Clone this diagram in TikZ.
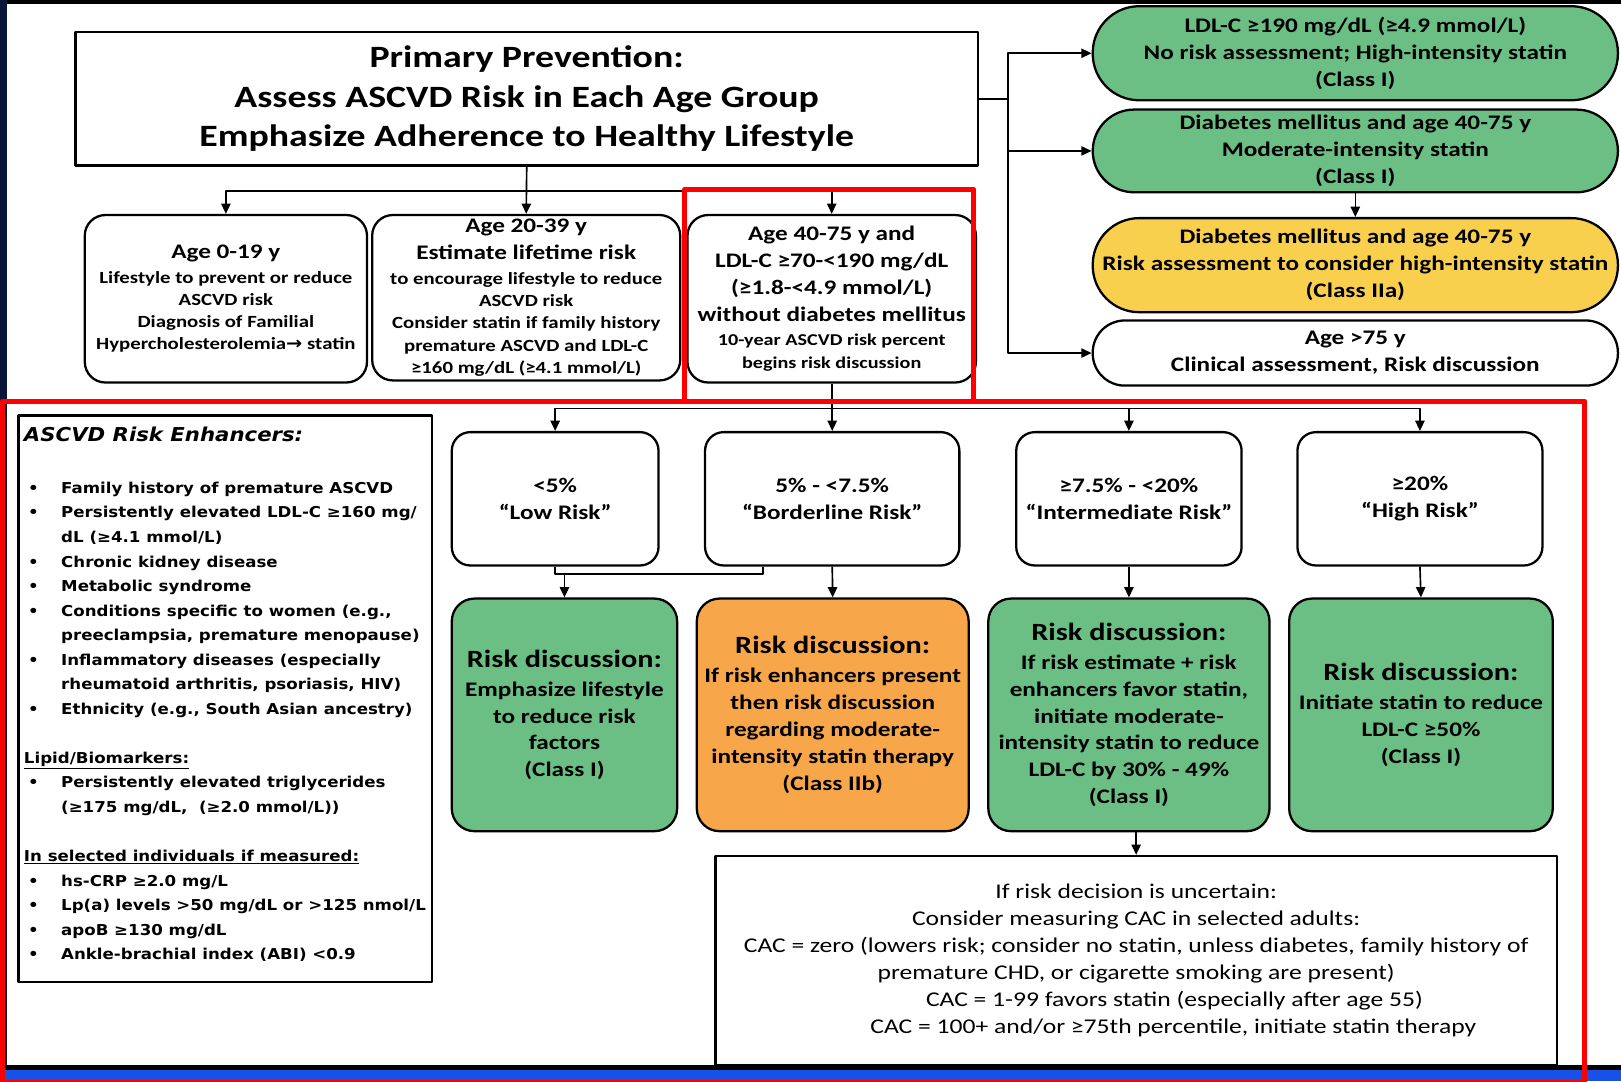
\documentclass[tikz,border=0pt]{standalone}
\usepackage{fontspec}
\setmainfont{Carlito}[FakeStretch=1.22]
\newfontfamily\enhfont{DejaVu Sans}[FakeStretch=1.11]
\newfontfamily\arrfont{DejaVu Sans}[FakeStretch=1.1]
\usetikzlibrary{arrows.meta}
\definecolor{gbox}{RGB}{108,191,132}
\definecolor{obox}{RGB}{247,166,73}
\definecolor{ybox}{RGB}{249,208,77}
\definecolor{navyedge}{RGB}{8,22,60}
\definecolor{bandblue}{RGB}{22,82,232}
\newcommand\fs[2]{\fontsize{#1}{#2}\selectfont}
\newcommand\bitem{\makebox[36pt][l]{\hspace*{4pt}•}}
\newcommand\bcont{\hspace*{36pt}}
\begin{document}
\begin{tikzpicture}[x=1pt, y=-1pt, line join=round,
  bxs/.style={draw, line width=2.2pt, inner sep=0pt, align=center},
  agebox/.style={bxs, rounded corners=20pt, fill=white, font=\bfseries\fs{16.5}{21.5}},
  ovalbox/.style={bxs, minimum width=508pt, font=\bfseries\fs{20}{26}},
  riskbox/.style={bxs, rounded corners=18pt, minimum height=129pt, fill=white, font=\bfseries\fs{20}{26}},
  discbox/.style={bxs, rounded corners=22pt, minimum height=225pt, font=\bfseries\fs{20}{26}},
  conn/.style={line width=1.6pt},
  arr/.style={conn, -{Triangle[length=10pt,width=9pt]}},
  redframe/.style={draw=red, line width=5pt}]
\useasboundingbox (0,0) rectangle (1568,1046);
% frame
\fill[white] (0,0) rectangle (1568,1046);
\fill[black] (0,0) rectangle (1568,4);
\fill[navyedge] (0,0) rectangle (7,1046);
\fill[black] (0,1030) rectangle (1568,1035);
\fill[bandblue] (0,1035) rectangle (1568,1046);

% title
\node[bxs, minimum width=873pt, minimum height=129pt, font=\bfseries\fs{30}{38}] (title) at (509.5,95.5)
 {Primary Prevention:\\Assess ASCVD Risk in Each Age Group\\Emphasize Adherence to Healthy Lifestyle};

% right ovals
\node[ovalbox, fill=gbox, minimum height=91pt, rounded corners=45pt] (o1) at (1311,51.5)
 {LDL-C ≥190 mg/dL (≥4.9 mmol/L)\\No risk assessment; High-intensity statin\\(Class I)};
\node[ovalbox, fill=gbox, minimum height=80pt, rounded corners=40pt] (o2) at (1311,146)
 {Diabetes mellitus and age 40-75 y\\Moderate-intensity statin\\(Class I)};
\node[ovalbox, fill=ybox, minimum height=91pt, rounded corners=45pt] (o3) at (1311,256.5)
 {Diabetes mellitus and age 40-75 y\\Risk assessment to consider high-intensity statin\\(Class IIa)};
\node[ovalbox, fill=white, minimum height=63pt, rounded corners=31pt] (o4) at (1311,341.5)
 {Age >75 y\\Clinical assessment, Risk discussion};

% age boxes
\node[agebox, minimum width=273pt, minimum height=162pt] (a1) at (218.5,289)
 {{\fs{20}{26}Age 0-19 y}\\[2.5pt]Lifestyle to prevent or reduce\\ASCVD risk\\Diagnosis of Familial\\Hypercholesterolemia{\arrfont\fs{17}{21.5}→} statin};
\node[agebox, minimum width=298pt, minimum height=160pt] (a2) at (509,288)
 {{\fs{20}{26}Age 20-39 y}\\[4.5pt]{\fs{20}{26}Estimate lifetime risk}\\[2.5pt]to encourage lifestyle to reduce\\ASCVD risk\\Consider statin if family history\\premature ASCVD and LDL-C\\≥160 mg/dL (≥4.1 mmol/L)};
\node[agebox, minimum width=279pt, minimum height=162pt, font=\bfseries\fs{20}{26}] (a3) at (804.5,289)
 {Age 40-75 y and\\LDL-C ≥70-<190 mg/dL\\(≥1.8-<4.9 mmol/L)\\without diabetes mellitus\\[-2pt]{\fs{16}{22}10-year ASCVD risk percent}\\[-4pt]{\fs{16}{22}begins risk discussion}};

% risk boxes
\node[riskbox, minimum width=200pt] (r1) at (537,482.5) {<5\%\\“Low Risk”};
\node[riskbox, minimum width=246pt] (r2) at (805,482.5) {5\% - <7.5\%\\“Borderline Risk”};
\node[riskbox, minimum width=218pt] (r3) at (1092,482.5) {≥7.5\% - <20\%\\“Intermediate Risk”};
\node[riskbox, minimum width=237pt] (r4) at (1373.5,482.5) {≥20\%\\“High Risk”};

% discussion boxes
\node[discbox, fill=gbox, minimum width=218pt] (g1) at (546,691.5)
 {{\fs{24}{28}Risk discussion:}\\[2pt]Emphasize lifestyle\\to reduce risk\\factors\\(Class I)};
\node[discbox, fill=obox, minimum width=263pt] (g2) at (805.5,691.5)
 {{\fs{24}{28}Risk discussion:}\\[2pt]If risk enhancers present\\then risk discussion\\regarding moderate-\\intensity statin therapy\\(Class IIb)};
\node[discbox, fill=gbox, minimum width=272pt] (g3) at (1092,691.5)
 {{\fs{24}{28}Risk discussion:}\\[2pt]If risk estimate + risk\\enhancers favor statin,\\initiate moderate-\\intensity statin to reduce\\LDL-C by 30\% - 49\%\\(Class I)};
\node[discbox, fill=gbox, minimum width=255pt] (g4) at (1374.5,691.5)
 {{\fs{24}{28}Risk discussion:}\\[2pt]Initiate statin to reduce\\LDL-C ≥50\%\\(Class I)};

% CAC box
\node[bxs, fill=white, minimum width=814pt, minimum height=202pt, font=\fs{20.3}{26}] (cac) at (1099,929)
 {If risk decision is uncertain:\\Consider measuring CAC in selected adults:\\CAC = zero (lowers risk; consider no statin, unless diabetes, family history of\\premature CHD, or cigarette smoking are present)\\\hspace*{74pt}CAC = 1-99 favors statin (especially after age 55)\\\hspace*{72pt}CAC = 100+ and/or ≥75th percentile, initiate statin therapy};

% enhancers
\node[draw, line width=2.2pt, minimum width=400pt, minimum height=548pt, inner sep=0pt] (enhbox) at (218,676) {};
\node[anchor=west, inner sep=0pt, font=\enhfont\bfseries\itshape\fs{18.5}{23}] (enht) at (23,420) {ASCVD Risk Enhancers:};
\node[anchor=north west, inner sep=0pt, align=left, font=\enhfont\bfseries\fs{14.5}{23.75}] (enh) at (23,466)
 {\bitem Family history of premature ASCVD\\
  \bitem Persistently elevated LDL-C ≥160 mg/\\
  \bcont dL (≥4.1 mmol/L)\\
  \bitem Chronic kidney disease\\
  \bitem Metabolic syndrome\\
  \bitem Conditions specific to women (e.g.,\\
  \bcont preeclampsia, premature menopause)\\
  \bitem Inflammatory diseases (especially\\
  \bcont rheumatoid arthritis, psoriasis, HIV)\\
  \bitem Ethnicity (e.g., South Asian ancestry)\\[23.75pt]
  \underline{Lipid/Biomarkers:}\\
  \bitem Persistently elevated triglycerides\\
  \bcont (≥175 mg/dL,~ (≥2.0 mmol/L))\\[23.75pt]
  \underline{In selected individuals if measured:}\\
  \bitem hs-CRP ≥2.0 mg/L\\
  \bitem Lp(a) levels >50 mg/dL or >125 nmol/L\\
  \bitem apoB ≥130 mg/dL\\
  \bitem Ankle-brachial index (ABI) <0.9};

% connectors
\coordinate (tj) at (509.5,185);
\draw[arr] (title.south) -- (a2.north);
\draw[arr] (tj) -| (a1.north);
\draw[arr] (tj) -| (a3.north);
\coordinate (rj) at (975,95.5);
\draw[conn] (title.east) -- (rj);
\draw[arr] (rj) |- (o1.west);
\draw[arr] (rj) |- (o2.west);
\draw[arr] (rj) |- (o4.west);
\draw[arr] (o2.south) -- (o3.north);
\coordinate (bj) at (804.5,395);
\draw[conn] (a3.south) -- (bj);
\draw[arr] (bj) -| (r1.north);
\draw[arr] (bj) -| (r2.north);
\draw[arr] (bj) -| (r3.north);
\draw[arr] (bj) -| (r4.north);
\coordinate (lj) at (546,555);
\coordinate (lk) at (738,555);
\draw[conn] (r1.south) |- (lk) -- (lk |- r2.south);
\draw[arr] (lj) -- (g1.north);
\draw[arr] (r2.south) -- (g2.north);
\draw[arr] (r3.south) -- (g3.north);
\draw[arr] (r4.south) -- (g4.north);
\draw[arr] (g3.south -| cac.north) -- (cac.north);

% red highlight frames
\draw[redframe] (662.5,388) -- (662.5,183) -- (942,183) -- (942,388);
\draw[redframe] (2.5,388) rectangle (1533,1047.5);
\end{tikzpicture}
\end{document}
